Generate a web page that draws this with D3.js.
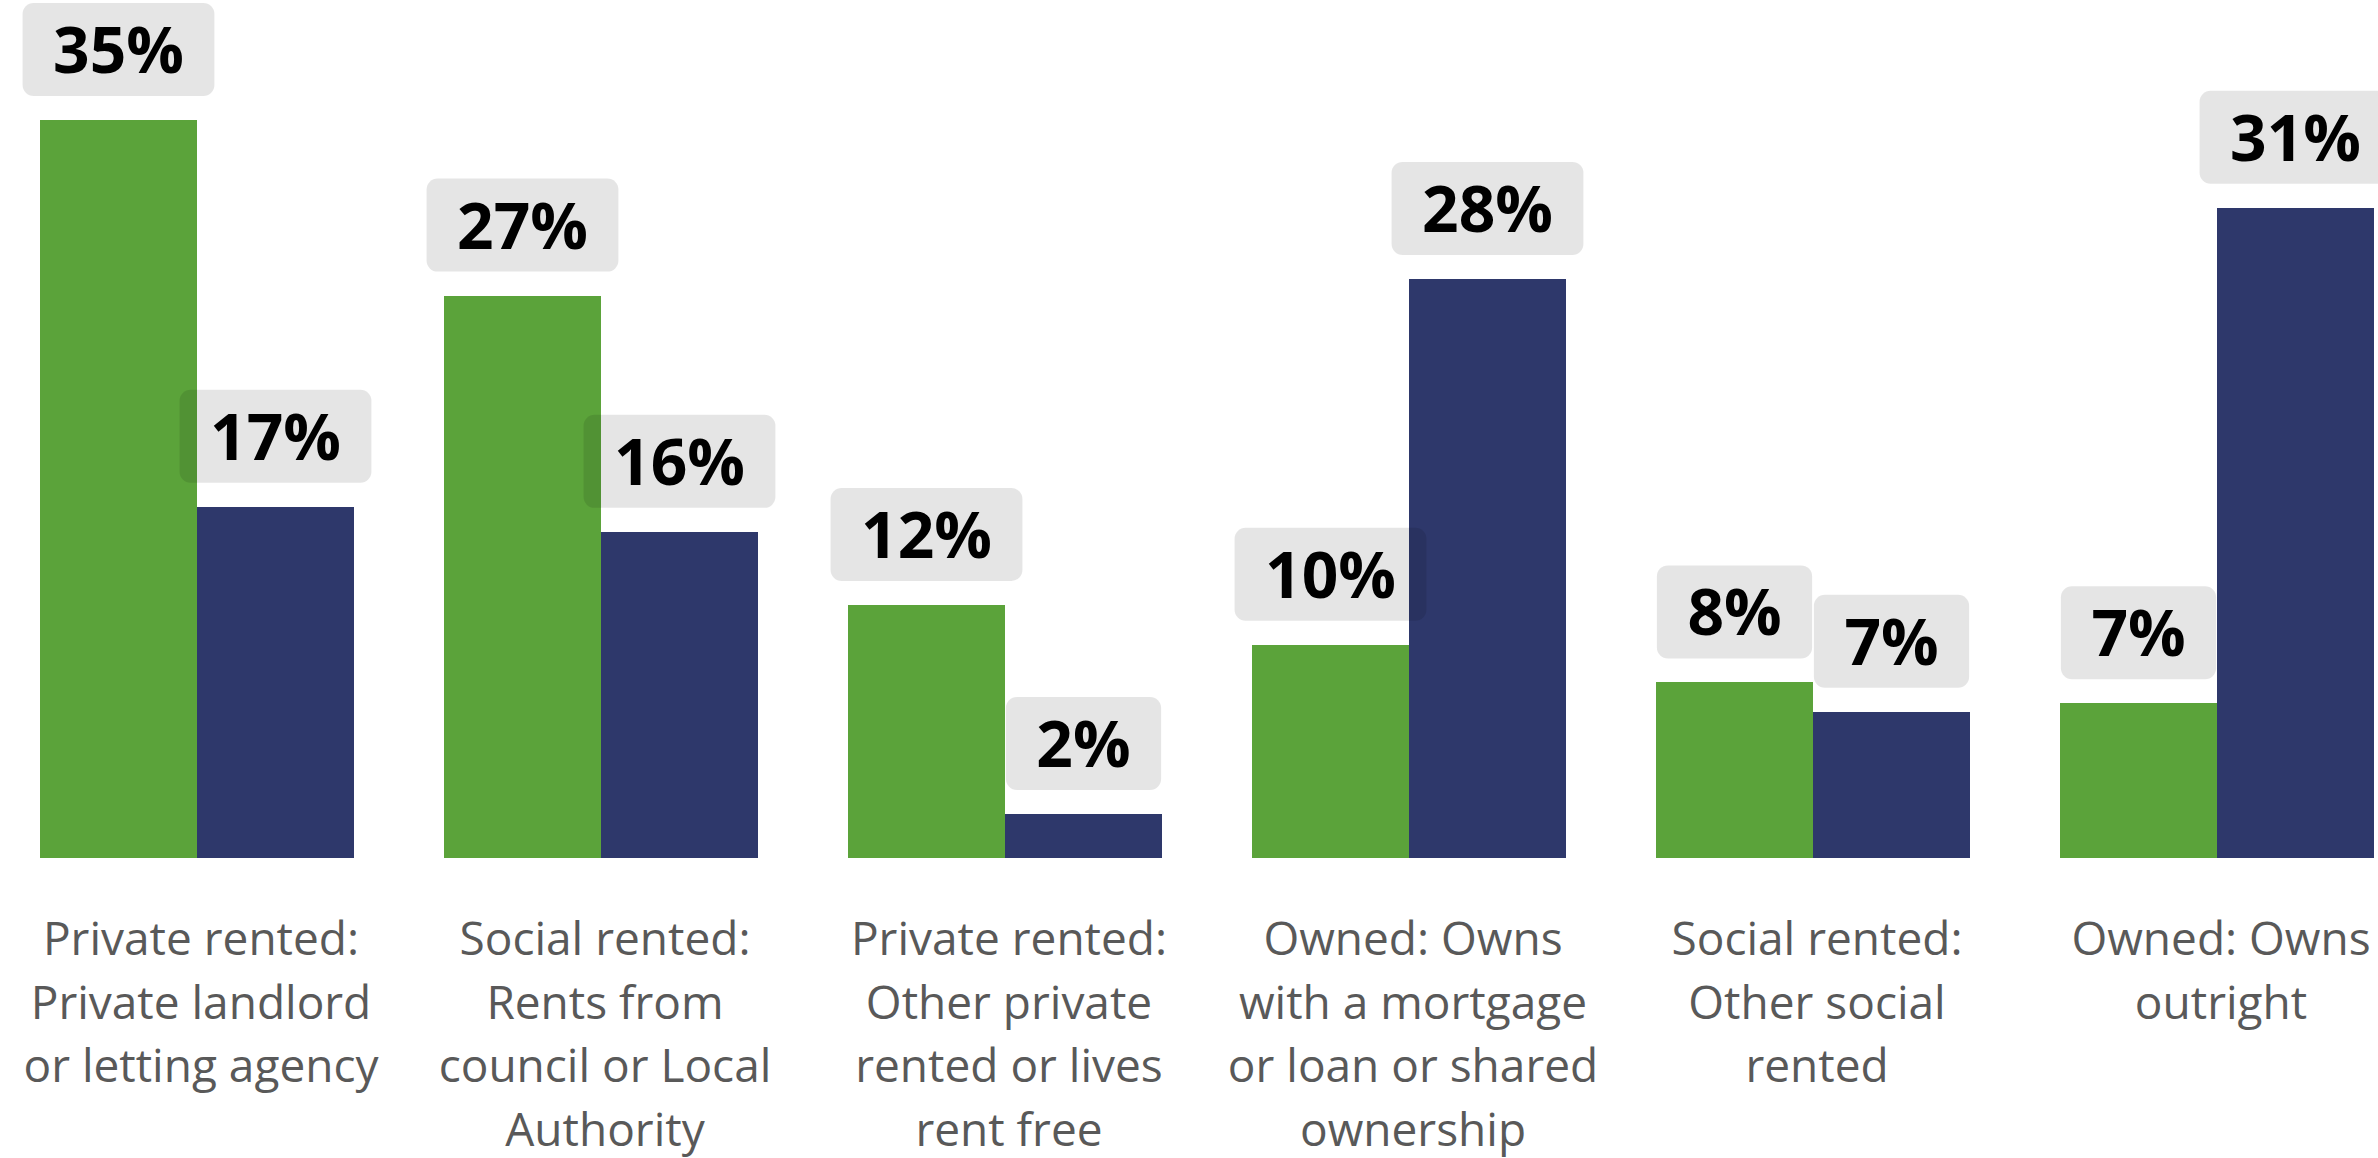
<!DOCTYPE html>
<html>
<head>
<meta charset="utf-8">
<script src="https://cdn.jsdelivr.net/npm/d3@7"></script>
<style>
  html, body { margin: 0; padding: 0; background: #ffffff; }
  svg { display: block; }
</style>
</head>
<body>
<div id="chart"></div>
<script>
// ---- data ----
const categories = [
  "Private rented:\nPrivate landlord\nor letting agency",
  "Social rented:\nRents from\ncouncil or Local\nAuthority",
  "Private rented:\nOther private\nrented or lives\nrent free",
  "Owned: Owns\nwith a mortgage\nor loan or shared\nownership",
  "Social rented:\nOther social\nrented",
  "Owned: Owns\noutright"
];
const seriesNames = ["Series 1", "Series 2"];
const series1Values = [35.3, 26.9, 12.1, 10.2, 8.4, 7.4];
const series2Values = [16.8, 15.6, 2.1, 27.7, 7.0, 31.1];
const seriesColors = ["#5ba33a", "#2e386b"];

// ---- layout ----
const W = 2378, H = 1158;
const baseY = 858;
const svg = d3.select("#chart").append("svg")
  .attr("width", W).attr("height", H);

const x0 = d3.scaleBand()
  .domain(d3.range(categories.length))
  .range([40, 2374])
  .paddingInner(0.2228)
  .paddingOuter(0);

const x1 = d3.scaleBand()
  .domain(seriesNames)
  .range([0, x0.bandwidth()])
  .padding(0);

const y = d3.scaleLinear()
  .domain([0, 35.3])
  .range([baseY, 120]);

const color = d3.scaleOrdinal().domain(seriesNames).range(seriesColors);

const rows = categories.map((c, i) => ({
  i,
  values: [
    { key: seriesNames[0], value: series1Values[i] },
    { key: seriesNames[1], value: series2Values[i] }
  ]
}));

// bars
const groups = svg.append("g").selectAll("g")
  .data(rows).join("g")
  .attr("transform", d => `translate(${x0(d.i)},0)`);

groups.selectAll("rect")
  .data(d => d.values).join("rect")
  .attr("x", d => x1(d.key))
  .attr("y", d => y(d.value))
  .attr("width", x1.bandwidth())
  .attr("height", d => baseY - y(d.value))
  .attr("fill", d => color(d.key))
  .attr("shape-rendering", "crispEdges");

// value labels (drawn after all bars)
const labelLayer = svg.append("g");
const flat = [];
rows.forEach(r => r.values.forEach(v => flat.push({ i: r.i, key: v.key, value: v.value })));

const lbl = labelLayer.selectAll("g").data(flat).join("g")
  .attr("transform", d => `translate(${x0(d.i) + x1(d.key) + x1.bandwidth() / 2},${y(d.value) - 24 - 93})`);

const boxes = lbl.append("rect")
  .attr("y", 0)
  .attr("height", 93)
  .attr("rx", 11).attr("ry", 11)
  .attr("fill", "#000000")
  .attr("fill-opacity", 0.1);

const txt = lbl.append("text")
  .attr("x", 0)
  .attr("y", 70)
  .attr("text-anchor", "middle")
  .attr("font-family", "'Open Sans', 'Noto Sans', sans-serif")
  .attr("font-weight", 700)
  .attr("font-size", 64)
  .attr("fill", "#000000")
  .text(d => Math.round(d.value) + "%");

txt.each(function(d) {
  const w = this.getComputedTextLength() + 61;
  d3.select(this.parentNode).select("rect")
    .attr("x", -w / 2)
    .attr("width", w);
});

// category labels
const catLayer = svg.append("g");
const catText = catLayer.selectAll("text").data(categories).join("text")
  .attr("text-anchor", "middle")
  .attr("font-family", "'Open Sans', 'Noto Sans', sans-serif")
  .attr("font-size", 46)
  .attr("fill", "#595959")
  .attr("transform", (d, i) => `translate(${x0(i) + x0.bandwidth() / 2 + 4},955)`);

catText.selectAll("tspan")
  .data(d => d.split("\n")).join("tspan")
  .attr("x", 0)
  .attr("y", (d, j) => j * 63.7)
  .text(d => d);
</script>
</body>
</html>
